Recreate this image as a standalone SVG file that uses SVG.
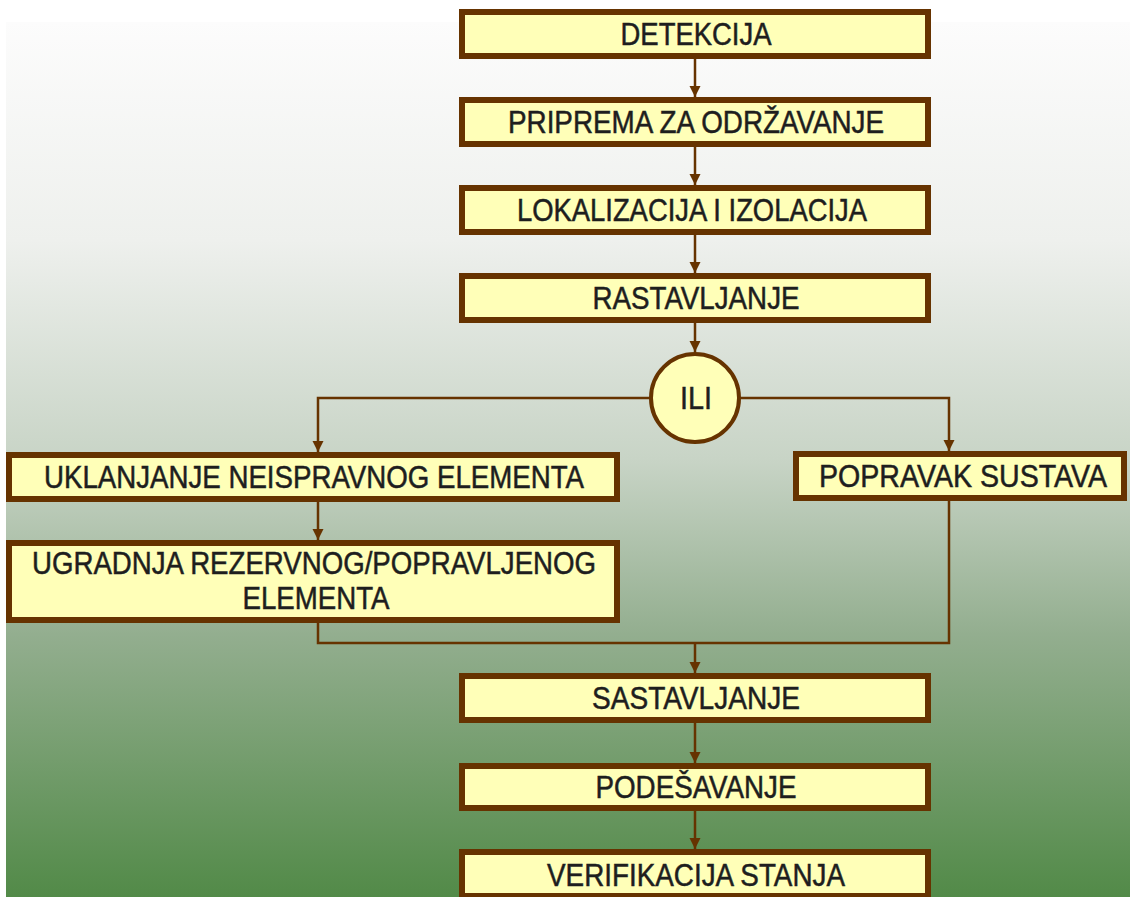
<svg xmlns="http://www.w3.org/2000/svg" width="1130" height="897" viewBox="0 0 1130 897">
<defs>
<linearGradient id="bg" x1="0" y1="0" x2="0" y2="1">
<stop offset="0" stop-color="#fcfcfc"/>
<stop offset="0.25" stop-color="#eef0ed"/>
<stop offset="0.5" stop-color="#c8d4c6"/>
<stop offset="0.7" stop-color="#93ae8f"/>
<stop offset="1" stop-color="#528a48"/>
</linearGradient>
<marker id="arr" markerWidth="12" markerHeight="12" refX="11" refY="6" orient="auto" markerUnits="userSpaceOnUse">
<path d="M0,0.5 L11,6 L0,11.5 Z" fill="#663300"/>
</marker>
</defs>
<style>
.box{fill:#ffffb8;stroke:#663300;stroke-width:6}
.t{font-family:"Liberation Sans",Arial,sans-serif;font-size:31px;fill:#1e1e1e;stroke:#1e1e1e;stroke-width:0.5;text-anchor:middle}
.c{fill:none;stroke:#663300;stroke-width:2.5}
</style>
<rect x="0" y="0" width="1130" height="897" fill="#ffffff"/>
<rect x="6" y="22" width="1124" height="875" fill="url(#bg)"/>
<g id="connectors">
<line class="c" x1="695" y1="59" x2="695" y2="97" marker-end="url(#arr)"/>
<line class="c" x1="695" y1="147" x2="695" y2="185" marker-end="url(#arr)"/>
<line class="c" x1="695" y1="235" x2="695" y2="273" marker-end="url(#arr)"/>
<line class="c" x1="695" y1="323" x2="695" y2="352" marker-end="url(#arr)"/>
<polyline class="c" points="651,398 318,398 318,452" marker-end="url(#arr)"/>
<polyline class="c" points="740,398 949,398 949,451" marker-end="url(#arr)"/>
<line class="c" x1="318" y1="502" x2="318" y2="540" marker-end="url(#arr)"/>
<polyline class="c" points="318,623 318,643 949,643 949,501"/>
<line class="c" x1="695" y1="643" x2="695" y2="673" marker-end="url(#arr)"/>
<line class="c" x1="695" y1="723" x2="695" y2="763" marker-end="url(#arr)"/>
<line class="c" x1="695" y1="811" x2="695" y2="849" marker-end="url(#arr)"/>
</g>
<g id="detekcija"><rect class="box" x="462" y="12" width="466" height="44"/><text class="t" x="696" y="45" textLength="151" lengthAdjust="spacingAndGlyphs">DETEKCIJA</text></g>
<g id="priprema"><rect class="box" x="462" y="100" width="466" height="44"/><text class="t" x="696" y="133" textLength="376" lengthAdjust="spacingAndGlyphs">PRIPREMA ZA ODRŽAVANJE</text></g>
<g id="lokalizacija"><rect class="box" x="462" y="188" width="466" height="44"/><text class="t" x="692" y="221" textLength="350" lengthAdjust="spacingAndGlyphs">LOKALIZACIJA I IZOLACIJA</text></g>
<g id="rastavljanje"><rect class="box" x="462" y="276" width="466" height="44"/><text class="t" x="696" y="309" textLength="207" lengthAdjust="spacingAndGlyphs">RASTAVLJANJE</text></g>
<g id="ili"><circle cx="695" cy="398" r="44" fill="#ffffb8" stroke="#663300" stroke-width="4"/><text class="t" x="696" y="409" textLength="32" lengthAdjust="spacingAndGlyphs">ILI</text></g>
<g id="uklanjanje"><rect class="box" x="9" y="455" width="608" height="44"/><text class="t" x="314" y="488" textLength="540" lengthAdjust="spacingAndGlyphs">UKLANJANJE NEISPRAVNOG ELEMENTA</text></g>
<g id="popravak"><rect class="box" x="796" y="454" width="328" height="44"/><text class="t" x="963" y="487" textLength="288" lengthAdjust="spacingAndGlyphs">POPRAVAK SUSTAVA</text></g>
<g id="ugradnja"><rect class="box" x="9" y="543" width="608" height="77"/><text class="t" x="314" y="574" textLength="564" lengthAdjust="spacingAndGlyphs">UGRADNJA REZERVNOG/POPRAVLJENOG</text><text class="t" x="316" y="609" textLength="147" lengthAdjust="spacingAndGlyphs">ELEMENTA</text></g>
<g id="sastavljanje"><rect class="box" x="462" y="676" width="466" height="44"/><text class="t" x="696" y="709" textLength="208" lengthAdjust="spacingAndGlyphs">SASTAVLJANJE</text></g>
<g id="podesavanje"><rect class="box" x="462" y="766" width="466" height="42"/><text class="t" x="696" y="798" textLength="201" lengthAdjust="spacingAndGlyphs">PODEŠAVANJE</text></g>
<g id="verifikacija"><rect class="box" x="462" y="852" width="466" height="44"/><text class="t" x="696" y="886" textLength="298" lengthAdjust="spacingAndGlyphs">VERIFIKACIJA STANJA</text></g>
</svg>
